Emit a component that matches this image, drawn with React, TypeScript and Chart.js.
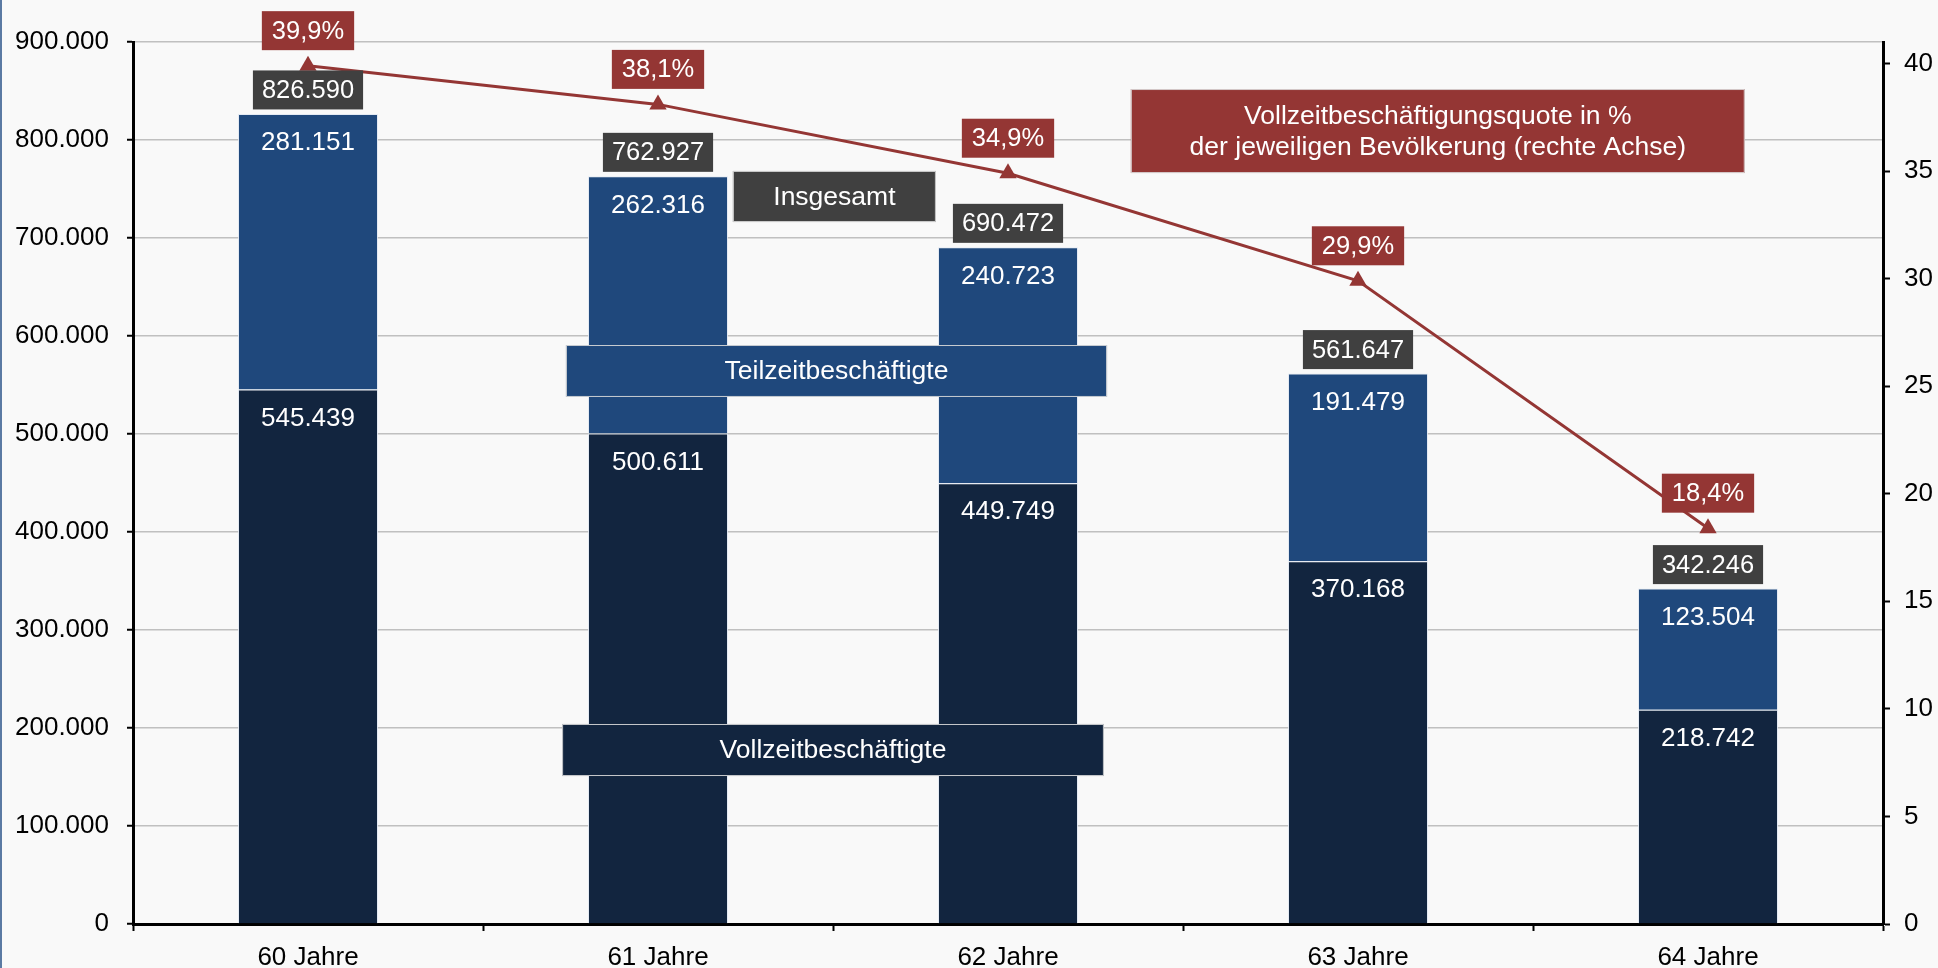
import React, { useEffect, useRef } from 'react';
import { Chart, registerables } from 'chart.js';

Chart.register(...registerables);

const categories = ['60 Jahre', '61 Jahre', '62 Jahre', '63 Jahre', '64 Jahre'];
const vollzeit = [545439, 500611, 449749, 370168, 218742];
const teilzeit = [281151, 262316, 240723, 191479, 123504];
const insgesamt = [826590, 762927, 690472, 561647, 342246];
const quote = [39.9, 38.1, 34.9, 29.9, 18.4];
const leftTicks = [0, 100000, 200000, 300000, 400000, 500000, 600000, 700000, 800000, 900000];
const rightTicks = [0, 5, 10, 15, 20, 25, 30, 35, 40];

const C_VOLL = '#12253F';
const C_TEIL = '#1F487C';
const C_TOTAL = '#404040';
const C_RED = '#943634';
const FONT = "'Liberation Sans', Arial, sans-serif";

// annotation boxes, positioned in scale units (x: category index, y: left axis value)
const legendBoxes = [
  { lines: ['Insgesamt'], x0: 1.214, x1: 1.794, y0: 768400, y1: 716300, color: C_TOTAL },
  { lines: ['Teilzeitbeschäftigte'], x0: 0.737, x1: 2.283, y0: 590800, y1: 537800, color: C_TEIL },
  { lines: ['Vollzeitbeschäftigte'], x0: 0.726, x1: 2.274, y0: 204100, y1: 151000, color: C_VOLL },
  {
    lines: ['Vollzeitbeschäftigungsquote in %', 'der jeweiligen Bevölkerung (rechte Achse)'],
    x0: 2.351, x1: 4.105, y0: 852000, y1: 766300, color: C_RED,
  },
];

const fmtInt = (n: number) => String(Math.round(n)).replace(/\B(?=(\d{3})+(?!\d))/g, '.');
const fmtPct = (v: number) => v.toFixed(1).replace('.', ',') + '%';

const labelPlugin = {
  id: 'labelPlugin',
  beforeDraw(chart: any) {
    const ctx = chart.ctx;
    ctx.save();
    ctx.fillStyle = '#f9f9f9';
    ctx.fillRect(0, 0, chart.width, chart.height);
    ctx.fillStyle = '#5b7aa3';
    ctx.fillRect(0, 0, 2, chart.height);
    ctx.restore();
  },
  afterDatasetsDraw(chart: any) {
    const ctx = chart.ctx;
    const xs = chart.scales.x;
    const ys = chart.scales.y;
    ctx.save();
    ctx.textAlign = 'center';
    ctx.textBaseline = 'middle';

    // segment labels
    ctx.font = `26px ${FONT}`;
    [0, 1].forEach((di) => {
      const meta = chart.getDatasetMeta(di);
      const vals = di === 0 ? vollzeit : teilzeit;
      meta.data.forEach((el: any, i: number) => {
        ctx.fillStyle = '#ffffff';
        ctx.fillText(fmtInt(vals[i]), el.x, el.y + 29);
      });
    });

    // totals
    ctx.font = `25.5px ${FONT}`;
    const topMeta = chart.getDatasetMeta(1);
    topMeta.data.forEach((el: any, i: number) => {
      const t = fmtInt(insgesamt[i]);
      const w = ctx.measureText(t).width + 18;
      const h = 39;
      const cy = el.y - 24;
      ctx.fillStyle = C_TOTAL;
      ctx.fillRect(el.x - w / 2, cy - h / 2, w, h);
      ctx.fillStyle = '#ffffff';
      ctx.fillText(t, el.x, cy + 1);
    });

    // legend boxes
    legendBoxes.forEach((b) => {
      const x0 = xs.getPixelForValue(b.x0);
      const x1 = xs.getPixelForValue(b.x1);
      const y0 = ys.getPixelForValue(b.y0);
      const y1 = ys.getPixelForValue(b.y1);
      ctx.fillStyle = b.color;
      ctx.fillRect(x0, y0, x1 - x0, y1 - y0);
      ctx.strokeStyle = 'rgba(220,220,220,0.9)';
      ctx.lineWidth = 1;
      ctx.strokeRect(x0 + 0.5, y0 + 0.5, x1 - x0 - 1, y1 - y0 - 1);
      ctx.fillStyle = '#ffffff';
      ctx.font = `26.5px ${FONT}`;
      const cx = (x0 + x1) / 2;
      const cy = (y0 + y1) / 2;
      const lh = 31;
      b.lines.forEach((ln, k) => {
        ctx.fillText(ln, cx, cy + (k - (b.lines.length - 1) / 2) * lh + 1);
      });
    });

    // percentage labels
    ctx.font = `25.5px ${FONT}`;
    const lineMeta = chart.getDatasetMeta(2);
    lineMeta.data.forEach((el: any, i: number) => {
      const t = fmtPct(quote[i]);
      const w = ctx.measureText(t).width + 20;
      const h = 39;
      const cy = el.y - 35;
      ctx.fillStyle = C_RED;
      ctx.fillRect(el.x - w / 2, cy - h / 2, w, h);
      ctx.fillStyle = '#ffffff';
      ctx.fillText(t, el.x, cy + 1);
    });
    ctx.restore();
  },
};

export default function App() {
  const ref = useRef<HTMLCanvasElement | null>(null);
  useEffect(() => {
    document.body.style.margin = '0';
    const canvas = ref.current;
    if (!canvas) return;
    Chart.defaults.font.family = FONT;
    const chart = new Chart(canvas, {
      type: 'bar',
      data: {
        labels: categories,
        datasets: [
          {
            type: 'bar',
            label: 'Vollzeitbeschäftigte',
            data: vollzeit,
            backgroundColor: C_VOLL,
            borderColor: 'rgba(225,232,242,0.85)',
            borderWidth: 1,
            yAxisID: 'y',
            order: 1,
            barPercentage: 0.4,
            categoryPercentage: 1,
          },
          {
            type: 'bar',
            label: 'Teilzeitbeschäftigte',
            data: teilzeit,
            backgroundColor: C_TEIL,
            borderColor: 'rgba(225,232,242,0.85)',
            borderWidth: 1,
            yAxisID: 'y',
            order: 1,
            barPercentage: 0.4,
            categoryPercentage: 1,
          },
          {
            type: 'line',
            label: 'Vollzeitbeschäftigungsquote',
            data: quote,
            borderColor: C_RED,
            backgroundColor: C_RED,
            borderWidth: 3,
            pointStyle: 'triangle',
            pointRadius: 10,
            pointBorderWidth: 0,
            tension: 0,
            yAxisID: 'y1',
            order: 0,
            clip: false,
          } as any,
        ],
      },
      options: {
        responsive: false,
        animation: false,
        devicePixelRatio: 1,
        layout: { padding: { top: 42, left: 0, right: 0, bottom: 0 } },
        plugins: {
          legend: { display: false },
          tooltip: { enabled: false },
        },
        scales: {
          x: {
            stacked: true,
            offset: true,
            grid: {
              offset: true,
              drawOnChartArea: false,
              drawTicks: true,
              tickLength: 7,
              tickColor: '#000',
              tickWidth: 2,
            },
            border: { display: true, color: '#000', width: 3 },
            ticks: { color: '#000', font: { size: 26, family: FONT }, padding: 11, maxRotation: 0 },
            afterFit: (s: any) => { s.height = 44; },
          },
          y: {
            stacked: true,
            position: 'left',
            min: 0,
            max: 900000,
            afterBuildTicks: (s: any) => { s.ticks = leftTicks.map((v) => ({ value: v })); },
            grid: {
              color: '#c0c0c0',
              lineWidth: 1.5,
              drawTicks: true,
              tickLength: 6,
              tickColor: '#000',
              tickWidth: 2,
            },
            border: { display: true, color: '#000', width: 3 },
            ticks: {
              color: '#000',
              font: { size: 26, family: FONT },
              padding: 18,
              callback: (v: any) => fmtInt(Number(v)),
            },
            afterFit: (s: any) => { s.width = 133; },
          },
          y1: {
            position: 'right',
            min: 0,
            max: 41,
            afterBuildTicks: (s: any) => { s.ticks = rightTicks.map((v) => ({ value: v })); },
            grid: {
              drawOnChartArea: false,
              drawTicks: true,
              tickLength: 7,
              tickColor: '#000',
              tickWidth: 2,
            },
            border: { display: true, color: '#000', width: 3 },
            ticks: {
              color: '#000',
              font: { size: 26, family: FONT },
              padding: 14,
              callback: (v: any) => String(v),
            },
            afterFit: (s: any) => { s.width = 55; },
          },
        },
      },
      plugins: [labelPlugin],
    });
    return () => chart.destroy();
  }, []);

  return (
    <div style={{ width: 1938, height: 968, background: '#f9f9f9' }}>
      <canvas ref={ref} width={1938} height={968} style={{ display: 'block' }} />
    </div>
  );
}
